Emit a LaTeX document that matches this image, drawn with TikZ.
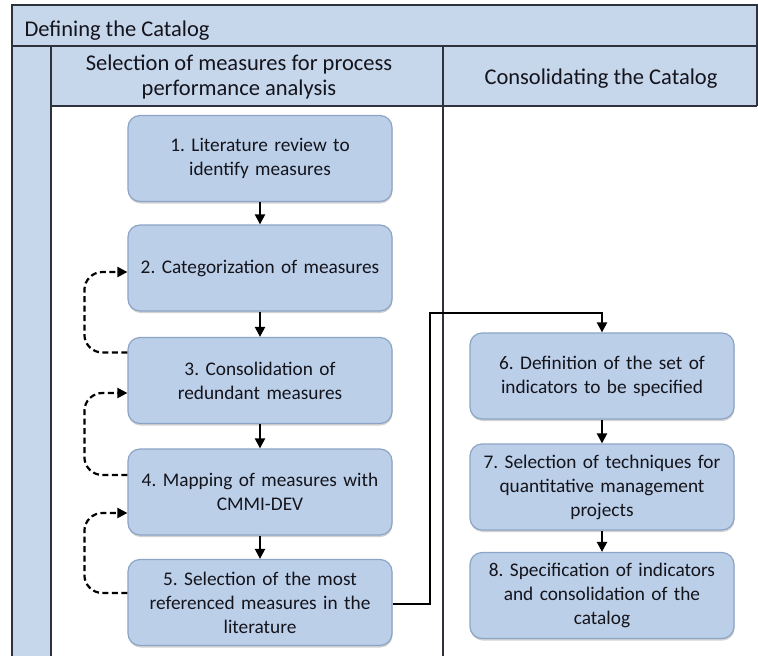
\documentclass[tikz,border=0pt]{standalone}
\usepackage{fontspec}
\setmainfont{Carlito}
\usetikzlibrary{arrows.meta,shadows}
\definecolor{hdrblue}{RGB}{198,214,235}
\definecolor{boxblue}{RGB}{188,207,232}
\definecolor{boxedge}{RGB}{140,164,198}
\definecolor{frameln}{RGB}{45,50,60}
\definecolor{txt}{RGB}{20,20,28}
\frenchspacing
\begin{document}
\begin{tikzpicture}[x=1pt,y=-1pt,
  procbox/.style={draw=boxedge,line width=1.2pt,fill=boxblue,rounded corners=12pt,
    minimum width=264pt,minimum height=86pt,text width=256pt,align=center,
    font=\fontsize{19.3}{24}\selectfont,text=txt,
    drop shadow={shadow xshift=0.5pt,shadow yshift=-2pt,opacity=0.35,fill=black!50}},
  flow/.style={-{Triangle[length=10pt,width=10pt]},line width=2.2pt,black},
  loop/.style={-{Triangle[length=10pt,width=10pt]},line width=2.2pt,black,
    dash pattern=on 6pt off 3.5pt,rounded corners=18pt},
  frame/.style={draw=frameln,line width=1.9pt},
  hdrtext/.style={font=\fontsize{22.5}{25.5}\selectfont,text=txt,align=center}]
\useasboundingbox (0,0) rectangle (758,656);
\fill[white] (0,0) rectangle (758,656);
% bands
\fill[hdrblue] (12,5) rectangle (757,46);
\fill[hdrblue] (12,46) rectangle (51,656);
\fill[hdrblue] (51,46) rectangle (757,106);
\draw[frame] (12,656) -- (12,5) -- (757,5) -- (757,106);
\draw[frame] (12,46) -- (757,46);
\draw[frame] (51,656) -- (51,46);
\draw[frame] (51,106) -- (757,106);
\draw[frame] (443,46) -- (443,656);
\node[hdrtext,anchor=west] (title) at (21,31) {Defining the Catalog};
\node[hdrtext] (h1) at (239,77) {Selection of measures for process\\performance analysis};
\node[hdrtext] (h2) at (601,79) {Consolidating the Catalog};
% boxes
\node[procbox] (b1) at (260,158.5) {1. Literature review to\\identify measures};
\node[procbox] (b2) at (260,268) {2. Categorization of measures};
\node[procbox] (b3) at (260,380.5) {3. Consolidation of\\redundant measures};
\node[procbox] (b4) at (260,492) {4. Mapping of measures with\\CMMI-DEV};
\node[procbox] (b5) at (260,602.5) {5. Selection of the most\\referenced measures in the\\literature};
\node[procbox] (b6) at (602,376) {6. Definition of the set of\\indicators to be specified};
\node[procbox] (b7) at (602,487) {7. Selection of techniques for\\quantitative management\\projects};
\node[procbox] (b8) at (602,595.5) {8. Specification of indicators\\and consolidation of the\\catalog};
% flows
\draw[flow] (b1) -- (b2);
\draw[flow] (b2) -- (b3);
\draw[flow] (b3) -- (b4);
\draw[flow] (b4) -- (b5);
\draw[flow] (b6) -- (b7);
\draw[flow] (b7) -- (b8);
\coordinate (k) at (430,313);
\draw[flow] ([yshift=-1.5pt]b5.east) -| (k) -| (b6.north);
% loops
\draw[loop] ([yshift=28pt]b3.west) -- ++(-43,0) |- ([yshift=-4pt]b2.west);
\draw[loop] ([yshift=17pt]b4.west) -- ++(-43,0) |- ([yshift=-12.5pt]b3.west);
\draw[loop] ([yshift=9.5pt]b5.west) -- ++(-43,0) |- ([yshift=-21pt]b4.west);
\end{tikzpicture}
\end{document}
